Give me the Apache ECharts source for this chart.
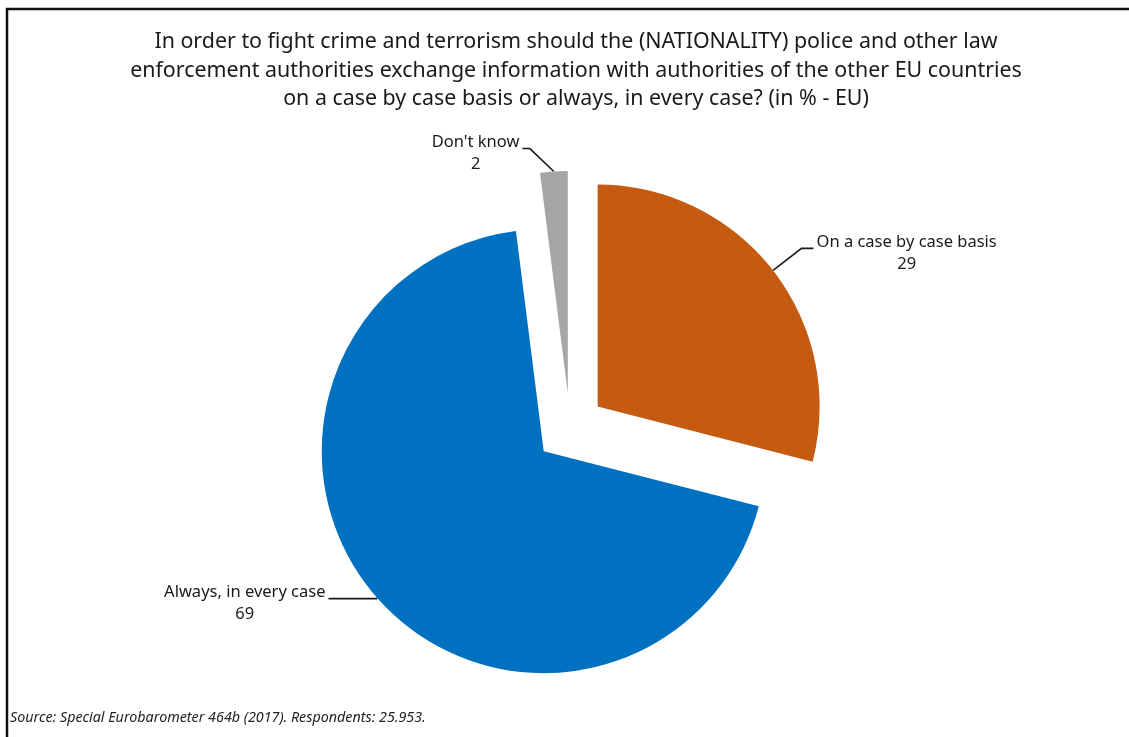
<!DOCTYPE html>
<html>
<head>
<meta charset="utf-8">
<title>Information exchange between law enforcement authorities</title>
<script src="https://cdn.jsdelivr.net/npm/echarts@6/dist/echarts.min.js"></script>
<style>
  html, body { margin: 0; padding: 0; background: #ffffff; }
  #chart { width: 1129px; height: 737px; }
</style>
</head>
<body>
<div id="chart"></div>
<script>
// Answer categories, clockwise from 12 o'clock
const categories = ['On a case by case basis', 'Always, in every case', "Don't know"];
// Share of respondents, % (EU)
const values = [29, 69, 2];
const sliceColors = ['#c55a11', '#0070c0', '#a6a6a6'];

const titleText = 'In order to fight crime and terrorism should the (NATIONALITY) police and other law\n' +
  'enforcement authorities exchange information with authorities of the other EU countries\n' +
  'on a case by case basis or always, in every case? (in % - EU)';
const sourceText = 'Source: Special Eurobarometer 464b (2017). Respondents: 25.953.';

// Leader line lengths per slice: [first part, horizontal part]
const leaderLengths = [[36, 12], [1, 48], [23, 30]];
// Sideways lean of the first leader segment (px); the small slice's leader bends up-left
const leaderLean = [0, 0, -24];

const FONT = '"Noto Sans", "Open Sans", sans-serif';

const chart = echarts.init(document.getElementById('chart'), null, { renderer: 'canvas' });

const pieData = categories.map((name, i) => ({
  name: name,
  value: values[i],
  selected: true,
  itemStyle: { color: sliceColors[i] },
  labelLine: { length: leaderLengths[i][0], length2: leaderLengths[i][1] }
}));

chart.setOption({
  backgroundColor: '#ffffff',
  animation: false,
  title: {
    text: titleText,
    left: 571,
    top: 23,
    textAlign: 'center',
    textStyle: {
      fontFamily: FONT,
      fontWeight: 'normal',
      fontSize: 21.4,
      lineHeight: 28.5,
      color: '#1a1a1a'
    }
  },
  graphic: [
    {
      type: 'rect',
      shape: { x: 7, y: 9, width: 1200, height: 800 },
      style: { fill: 'none', stroke: '#111111', lineWidth: 2.5 },
      silent: true
    },
    {
      type: 'text',
      left: 10,
      top: 711,
      style: {
        text: sourceText,
        fontFamily: FONT,
        fontStyle: 'italic',
        fontSize: 14.3,
        fill: '#222222'
      },
      silent: true
    }
  ],
  series: [{
    type: 'pie',
    center: [570, 428],
    radius: 222,
    startAngle: 90,
    clockwise: true,
    selectedMode: 'multiple',
    selectedOffset: 35,
    avoidLabelOverlap: false,
    emphasis: { disabled: true },
    itemStyle: { borderWidth: 0 },
    select: { itemStyle: { borderWidth: 0 } },
    label: {
      show: true,
      position: 'outside',
      alignTo: 'none',
      distanceToLabelLine: 3,
      formatter: '{t|{b}}\n{t|{c}}',
      padding: [10, 0, 0, 0],
      color: '#1a1a1a',
      fontFamily: FONT,
      fontSize: 16.5,
      lineHeight: 22,
      rich: {
        t: { align: 'center', fontFamily: FONT, fontSize: 16.5, lineHeight: 22, color: '#1a1a1a' }
      }
    },
    labelLine: {
      show: true,
      lineStyle: { color: '#1a1a1a', width: 1.6 }
    },
    labelLayout: function (params) {
      const lean = leaderLean[params.dataIndex];
      const pts = params.labelLinePoints;
      if (!lean || !pts || pts.length < 3) {
        return {};
      }
      // Bend the first segment sideways, keep the end point where the label sits
      const p0 = pts[0];
      const p2 = pts[2];
      const p1 = [p0[0] + lean, pts[1][1]];
      return { labelLinePoints: [p0, p1, p2] };
    },
    data: pieData
  }]
});
</script>
</body>
</html>
